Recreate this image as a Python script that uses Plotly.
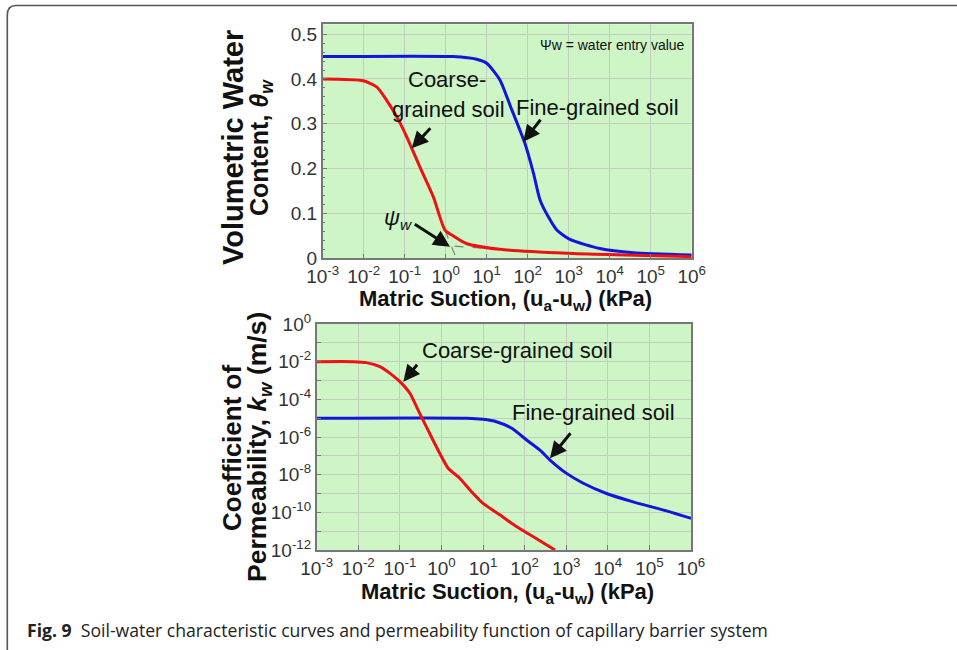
import plotly.graph_objects as go

W, H = 957, 650

# ---------------- data ----------------
# Top: soil-water characteristic curves
fine_swcc_suction = [0.001, 1.53, 5.7, 10, 21, 41, 85, 138, 200, 316, 513, 1070, 5750, 38000, 1e6]
fine_swcc_theta = [0.45, 0.45, 0.444, 0.435, 0.398, 0.331, 0.257, 0.190, 0.130, 0.093, 0.063, 0.042, 0.022, 0.0125, 0.0074]
coarse_swcc_suction = [0.001, 0.0098, 0.021, 0.036, 0.064, 0.112, 0.234, 0.50, 0.96, 1.53, 3.2, 21, 890, 1e6]
coarse_swcc_theta = [0.400, 0.396, 0.382, 0.353, 0.316, 0.271, 0.204, 0.137, 0.063, 0.050, 0.033, 0.020, 0.011, 0.0036]
tangent1_suction = [0.96, 1.69]
tangent1_theta = [0.063, 0.0067]
tangent2_suction = [0.60, 21]
tangent2_theta = [0.0297, 0.020]

# Bottom: permeability functions
coarse_k_suction = [0.001, 0.0076, 0.0158, 0.033, 0.058, 0.1, 0.174, 0.30, 0.52, 0.91, 1.45, 2.75, 4.9, 10, 25.7, 64.6, 162, 537]
coarse_k = [1e-2, 1e-2, 8.9e-3, 5.4e-3, 2.4e-3, 8.7e-4, 2.1e-4, 1.8e-5, 1.55e-6, 1.35e-7, 2.2e-8, 6.5e-9, 1.5e-9, 3.0e-10, 7.2e-11, 1.7e-11, 5e-12, 1e-12]
fine_k_suction = [0.001, 4.1, 10, 21, 49, 112, 234, 407, 1020, 2570, 9300, 40700, 257000, 1e6]
fine_k = [1e-5, 1e-5, 8.7e-6, 6.5e-6, 2.9e-6, 6.9e-7, 2.0e-7, 6.0e-8, 1.17e-8, 3.5e-9, 1.0e-9, 3.6e-10, 1.2e-10, 4.8e-11]

# ticks
x_tickvals = [1e-3, 1e-2, 1e-1, 1e0, 1e1, 1e2, 1e3, 1e4, 1e5, 1e6]
x_ticktext = ["10<sup>-3</sup>", "10<sup>-2</sup>", "10<sup>-1</sup>", "10<sup>0</sup>", "10<sup>1</sup>",
              "10<sup>2</sup>", "10<sup>3</sup>", "10<sup>4</sup>", "10<sup>5</sup>", "10<sup>6</sup>"]
theta_tickvals = [0, 0.1, 0.2, 0.3, 0.4, 0.5]
theta_ticktext = ["0", "0.1", "0.2", "0.3", "0.4", "0.5"]
k_tickvals = [1e-12, 1e-11, 1e-10, 1e-9, 1e-8, 1e-7, 1e-6, 1e-5, 1e-4, 1e-3, 1e-2, 1e-1, 1e0]
k_ticktext = ["10<sup>-12</sup>", "", "10<sup>-10</sup>", "", "10<sup>-8</sup>", "", "10<sup>-6</sup>", "",
              "10<sup>-4</sup>", "", "10<sup>-2</sup>", "", "10<sup>0</sup>"]

RED = "#ee1111"
BLUE = "#1414dd"
FONT = "Liberation Sans, Arial, sans-serif"


def px(x):
    return x / W


def py(y):
    return 1 - y / H


fig = go.Figure()
fig.add_trace(go.Scatter(x=tangent1_suction, y=tangent1_theta, mode="lines",
                         line=dict(color="#808080", width=1.2, dash="dash"), xaxis="x", yaxis="y"))
fig.add_trace(go.Scatter(x=tangent2_suction, y=tangent2_theta, mode="lines",
                         line=dict(color="#808080", width=1.2, dash="dash"), xaxis="x", yaxis="y"))
fig.add_trace(go.Scatter(x=fine_swcc_suction, y=fine_swcc_theta, mode="lines",
                         line=dict(color=BLUE, width=3, shape="spline", smoothing=0.6), xaxis="x", yaxis="y"))
fig.add_trace(go.Scatter(x=coarse_swcc_suction, y=coarse_swcc_theta, mode="lines",
                         line=dict(color=RED, width=3, shape="spline", smoothing=0.6), xaxis="x", yaxis="y"))
fig.add_trace(go.Scatter(x=fine_k_suction, y=fine_k, mode="lines",
                         line=dict(color=BLUE, width=3, shape="spline", smoothing=0.6), xaxis="x2", yaxis="y2"))
fig.add_trace(go.Scatter(x=coarse_k_suction, y=coarse_k, mode="lines",
                         line=dict(color=RED, width=3, shape="spline", smoothing=0.6), xaxis="x2", yaxis="y2"))

axis_common = dict(showline=True, linecolor="#777777", linewidth=1.5, mirror=True,
                   gridcolor="#c3cec1", gridwidth=1, zeroline=False,
                   tickfont=dict(family=FONT, size=19, color="#333333"),
                   ticks="inside", ticklen=5, tickcolor="#777777")

fig.update_layout(
    width=W, height=H,
    margin=dict(l=0, r=0, t=0, b=0, autoexpand=False),
    paper_bgcolor="white",
    plot_bgcolor="#cdf5c6",
    showlegend=False,
    xaxis=dict(type="log", range=[-3, 6], domain=[px(322.7), px(691.7)], anchor="y",
               tickvals=x_tickvals, ticktext=x_ticktext, **axis_common),
    yaxis=dict(range=[0, 0.522], domain=[py(258.3), py(24.3)], anchor="x",
               tickvals=theta_tickvals, ticktext=theta_ticktext,
               minor=dict(dtick=0.02, ticks="inside", ticklen=3, tickcolor="#777777", showgrid=False),
               **axis_common),
    xaxis2=dict(type="log", range=[-3, 6], domain=[px(316.7), px(691.0)], anchor="y2",
                tickvals=x_tickvals, ticktext=x_ticktext, **axis_common),
    yaxis2=dict(type="log", range=[-12, 0], domain=[py(550), py(324)], anchor="x2",
                tickvals=k_tickvals, ticktext=k_ticktext, **axis_common),
)

ann = []


def text(x, y, s, size=22, bold=False, angle=0, family=FONT, color="#111111", xanchor="center"):
    ann.append(dict(x=px(x), y=py(y), xref="paper", yref="paper", text=("<b>%s</b>" % s) if bold else s,
                    showarrow=False, textangle=angle, xanchor=xanchor, yanchor="middle",
                    font=dict(family=family, size=size, color=color)))


def arrow(tx, ty, hx, hy):
    ann.append(dict(x=px(hx), y=py(hy), xref="paper", yref="paper", text="", showarrow=True,
                    ax=tx - hx, ay=ty - hy, axref="pixel", ayref="pixel",
                    arrowhead=2, arrowsize=1.1, arrowwidth=3, arrowcolor="#111111"))


# Top plot texts
text(447, 79, "Coarse-")
text(448, 109, "grained soil")
text(597, 107, "Fine-grained soil")
text(612, 45, "Ψw = water entry value", size=14)
text(398, 219, "<i>ψ<sub>w</sub></i>", size=22)
arrow(431.7, 126.7, 411.7, 148.3)
arrow(541.7, 118.3, 523.3, 141.7)
arrow(413.3, 223.3, 450, 246.7)
# Top axis titles
text(233, 148, "Volumetric Water", size=29, bold=True, angle=-90)
text(261, 148, "Content, <i>θ<sub>w</sub></i>", size=25, bold=True, angle=-90)
text(505, 300, "Matric Suction, (u<sub>a</sub>-u<sub>w</sub>) (kPa)", size=22, bold=True)

# Bottom plot texts
text(517, 350, "Coarse-grained soil")
text(593, 412, "Fine-grained soil")
arrow(418.3, 363.3, 403.3, 381.7)
arrow(571.7, 431.7, 550, 458.3)
text(232, 448, "Coefficient of", size=26, bold=True, angle=-90)
text(259, 447, "Permeability, <i>k<sub>w</sub></i> (m/s)", size=26.5, bold=True, angle=-90)
text(507, 593, "Matric Suction, (u<sub>a</sub>-u<sub>w</sub>) (kPa)", size=22, bold=True)

# Caption
ann.append(dict(x=px(25), y=py(630), xref="paper", yref="paper", showarrow=False, xanchor="left",
                yanchor="middle",
                text="<b>Fig. 9</b>  Soil-water characteristic curves and permeability function of capillary barrier system",
                font=dict(family="Open Sans, sans-serif", size=17.6, color="#222222")))

fig.update_layout(annotations=ann)

# Frame around the figure (top edge and left edge with rounded corner)
fig.add_shape(type="path", xref="paper", yref="paper",
              path="M %f %f L %f %f Q %f %f %f %f L %f %f" % (
                  px(7.3), py(660), px(7.3), py(15), px(7.3), py(5.5), px(16), py(5.5), px(960), py(5.5)),
              line=dict(color="#555555", width=1.6))

fig.write_html("out.html")
